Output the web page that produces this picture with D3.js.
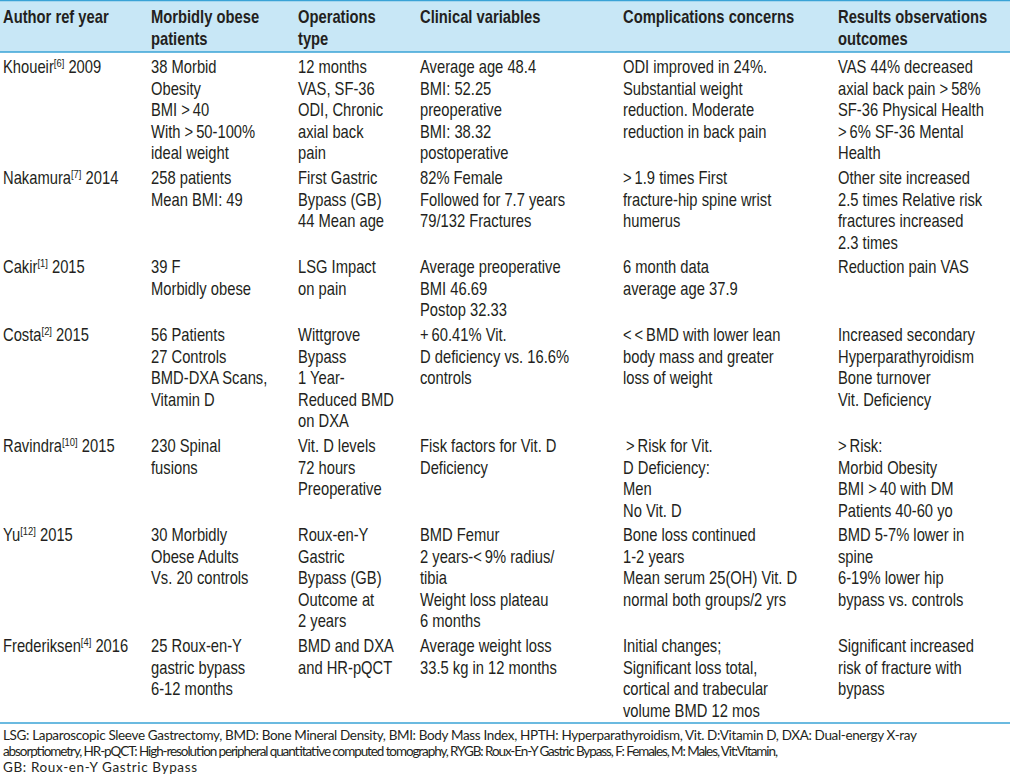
<!DOCTYPE html>
<html>
<head>
<meta charset="utf-8">
<script src="https://cdn.jsdelivr.net/npm/d3@7"></script>
<style>
  body { margin: 0; background: #fff; }
  svg { display: block; }
  .cell { font-family: "Liberation Sans", Arial, sans-serif; font-size: 18px; fill: #231f20; }
  .head { font-weight: bold; }
  .note { font-family: Lato, "Open Sans", sans-serif; font-size: 13.5px; fill: #231f20; }
</style>
</head>
<body>
<div id="table"></div>
<script>

var headers = [
  ["Author ref year"],
  ["Morbidly obese", "patients"],
  ["Operations", "type"],
  ["Clinical variables"],
  ["Complications concerns"],
  ["Results observations", "outcomes"]
];

var authors = ["Khoueir", "Nakamura", "Cakir", "Costa", "Ravindra", "Yu", "Frederiksen"];
var refs = ["[6]", "[7]", "[1]", "[2]", "[10]", "[12]", "[4]"];
var years = ["2009", "2014", "2015", "2015", "2015", "2015", "2016"];

var patients = [
  ["38 Morbid", "Obesity", "BMI >\u200940", "With >\u200950-100%", "ideal weight"],
  ["258 patients", "Mean BMI: 49"],
  ["39 F", "Morbidly obese"],
  ["56 Patients", "27 Controls", "BMD-DXA Scans,", "Vitamin D"],
  ["230 Spinal", "fusions"],
  ["30 Morbidly", "Obese Adults", "Vs. 20 controls"],
  ["25 Roux-en-Y", "gastric bypass", "6-12 months"]
];

var operations = [
  ["12 months", "VAS, SF-36", "ODI, Chronic", "axial back", "pain"],
  ["First Gastric", "Bypass (GB)", "44 Mean age"],
  ["LSG Impact", "on pain"],
  ["Wittgrove", "Bypass", "1 Year-", "Reduced BMD", "on DXA"],
  ["Vit. D levels", "72 hours", "Preoperative"],
  ["Roux-en-Y", "Gastric", "Bypass (GB)", "Outcome at", "2 years"],
  ["BMD and DXA", "and HR-pQCT"]
];

var clinical = [
  ["Average age 48.4", "BMI: 52.25", "preoperative", "BMI: 38.32", "postoperative"],
  ["82% Female", "Followed for 7.7 years", "79/132 Fractures"],
  ["Average preoperative", "BMI 46.69", "Postop 32.33"],
  ["+\u200960.41% Vit.", "D deficiency vs. 16.6%", "controls"],
  ["Fisk factors for Vit. D", "Deficiency"],
  ["BMD Femur", "2 years-<\u20099% radius/", "tibia", "Weight loss plateau", "6 months"],
  ["Average weight loss", "33.5 kg in 12 months"]
];

var complications = [
  ["ODI improved in 24%.", "Substantial weight", "reduction. Moderate", "reduction in back pain"],
  [">\u20091.9 times First", "fracture-hip spine wrist", "humerus"],
  ["6 month data", "average age 37.9"],
  ["<\u2009<\u2009BMD with lower lean", "body mass and greater", "loss of weight"],
  ["\u2009>\u2009Risk for Vit.", "D Deficiency:", "Men", "No Vit. D"],
  ["Bone loss continued", "1-2 years", "Mean serum 25(OH) Vit. D", "normal both groups/2 yrs"],
  ["Initial changes;", "Significant loss total,", "cortical and trabecular", "volume BMD 12 mos"]
];

var results = [
  ["VAS 44% decreased", "axial back pain >\u200958%", "SF-36 Physical Health", ">\u20096% SF-36 Mental", "Health"],
  ["Other site increased", "2.5 times Relative risk", "fractures increased", "2.3 times"],
  ["Reduction pain VAS"],
  ["Increased secondary", "Hyperparathyroidism", "Bone turnover", "Vit. Deficiency"],
  [">\u2009Risk:", "Morbid Obesity", "BMI >\u200940 with DM", "Patients 40-60 yo"],
  ["BMD 5-7% lower in", "spine", "6-19% lower hip", "bypass vs. controls"],
  ["Significant increased", "risk of fracture with", "bypass"]
];

var footnotes = [
  "LSG: Laparoscopic Sleeve Gastrectomy, BMD: Bone Mineral Density, BMI: Body Mass Index, HPTH: Hyperparathyroidism, Vit. D:Vitamin D, DXA: Dual-energy X-ray",
  "absorptiometry, HR-pQCT: High-resolution peripheral quantitative computed tomography, RYGB: Roux-En-Y Gastric Bypass, F: Females, M: Males, Vit:Vitamin,",
  "GB: Roux-en-Y Gastric Bypass"
];

// layout
var width = 1010, height = 775;
var colX = [3, 151, 298, 420, 623, 838];
var headH = 52;
var lineH = 21.5;
var rowGap = 3.3;
var narrow = 0.82;   // no condensed face installed, so squeeze Liberation Sans
var footLineY = 723;
var footLineH = 16;

var bodyCols = [patients, operations, clinical, complications, results];

// lines per row = tallest cell
var rowLines = authors.map(function(a, i) {
  return d3.max(bodyCols, function(c) { return c[i].length; });
});
var rowTop = [headH + 0.3];
rowLines.forEach(function(n, i) {
  rowTop.push(rowTop[i] + n * lineH + rowGap);
});

function place(x, y) {
  return "translate(" + x + "," + y + ") scale(" + narrow + ",1)";
}

var svg = d3.select("#table")
  .append("svg")
  .attr("width", width)
  .attr("height", height);

// header band
svg.append("rect")
  .attr("x", 0).attr("y", 0)
  .attr("width", width).attr("height", headH)
  .attr("fill", "#c8e7f6");

svg.append("line")
  .attr("x1", 0).attr("x2", width)
  .attr("y1", 0.5).attr("y2", 0.5)
  .attr("stroke", "#3aa3d6").attr("stroke-width", 1.5);

svg.append("line")
  .attr("x1", 0).attr("x2", width)
  .attr("y1", headH).attr("y2", headH)
  .attr("stroke", "#3aa3d6").attr("stroke-width", 1.5);

var head = svg.append("g").attr("class", "cell head");
headers.forEach(function(h, c) {
  head.selectAll(null)
    .data(h)
    .enter()
    .append("text")
    .attr("transform", function(d, i) { return place(colX[c], 17 + i * lineH + 6.3); })
    .text(function(d) { return d; });
});

// body
var body = svg.append("g").attr("class", "cell");

function lineY(r, i) {
  return rowTop[r] + 4 + lineH / 2 + i * lineH + 6.3;
}

// first column: author + superscript ref + year
var first = body.selectAll("text.author")
  .data(authors)
  .enter()
  .append("text")
  .attr("class", "author")
  .attr("transform", function(d, i) { return place(colX[0], lineY(i, 0)); });

first.append("tspan").text(function(d) { return d; });
first.append("tspan")
  .attr("dy", -6)
  .attr("font-size", 11.5)
  .text(function(d, i) { return refs[i]; });
first.append("tspan")
  .attr("dy", 6)
  .text(function(d, i) { return " " + years[i]; });

bodyCols.forEach(function(col, c) {
  col.forEach(function(cell, r) {
    body.selectAll(null)
      .data(cell)
      .enter()
      .append("text")
      .attr("transform", function(d, i) { return place(colX[c + 1], lineY(r, i)); })
      .style("white-space", "pre")
      .text(function(d) { return d; });
  });
});

// footer
svg.append("line")
  .attr("x1", 0).attr("x2", width)
  .attr("y1", footLineY).attr("y2", footLineY)
  .attr("stroke", "#3aa3d6").attr("stroke-width", 1.5);

var noteW = [914, 775, 194];
svg.append("g")
  .attr("class", "note")
  .selectAll("text")
  .data(footnotes)
  .enter()
  .append("text")
  .attr("x", 3)
  .attr("y", function(d, i) { return footLineY + 17 + i * footLineH; })
  .attr("textLength", function(d, i) { return noteW[i]; })
  .attr("lengthAdjust", "spacing")
  .text(function(d) { return d; });

</script>
</body>
</html>
